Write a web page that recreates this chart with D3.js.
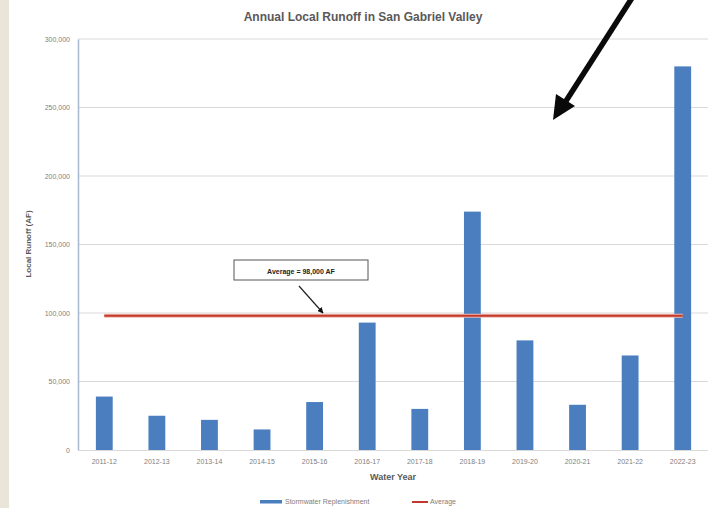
<!DOCTYPE html>
<html><head><meta charset="utf-8">
<script src="https://cdn.jsdelivr.net/npm/d3@7/dist/d3.min.js"></script>
<style>body{margin:0;background:#fff;}svg{display:block;font-family:"Liberation Sans",Arial,sans-serif;}</style>
</head><body><svg id="c" width="708" height="508"></svg>
<script>
const categories = ["2011-12","2012-13","2013-14","2014-15","2015-16","2016-17","2017-18","2018-19","2019-20","2020-21","2021-22","2022-23"];
const runoff = [39000,25000,22000,15000,35000,93000,30000,174000,80000,33000,69000,280000];
const averageValue = [98000];
const yTicks = [0,50000,100000,150000,200000,250000,300000];
const seriesNames = ["Stormwater Replenishment","Average"];

const svg = d3.select("#c");
// left beige strip
svg.append("rect").attr("x",0).attr("y",0).attr("width",9).attr("height",508).attr("fill","#e9e5d9");

const x = d3.scaleBand().domain(categories).range([78,709]).paddingInner(0.68).paddingOuter(0.34);
const y = d3.scaleLinear().domain([0,300000]).range([450,39]);

// gridlines
svg.append("g").selectAll("line").data(yTicks.filter(d=>d>0)).join("line")
  .attr("x1",78).attr("x2",708).attr("y1",d=>y(d)).attr("y2",d=>y(d))
  .attr("stroke","#d9d9d9").attr("stroke-width",1);

// y axis
const yAxis = d3.axisLeft(y).tickValues(yTicks).tickFormat(d3.format(",")).tickSize(0).tickPadding(8);
const ga = svg.append("g").attr("transform","translate(78,0)").call(yAxis);
ga.select(".domain").attr("stroke","#a9b9cf").attr("stroke-width",1.5);
ga.selectAll("text").attr("font-size",7).attr("fill","#808080");

// bars
svg.append("g").selectAll("rect").data(runoff).join("rect")
  .attr("x",(d,i)=>x(categories[i])).attr("width",x.bandwidth())
  .attr("y",d=>y(d)).attr("height",d=>y(0)-y(d)).attr("fill","#4a7ebf");

// x axis baseline
svg.append("line").attr("x1",78).attr("x2",708).attr("y1",450.5).attr("y2",450.5).attr("stroke","#d9d9d9");

// x labels
const xAxis = d3.axisBottom(x).tickSize(0).tickPadding(9);
const gx = svg.append("g").attr("transform","translate(0,450)").call(xAxis);
gx.select(".domain").remove();
gx.selectAll("text").attr("font-size",7).attr("fill","#808080");

// average line
const ax0 = x(categories[0]) + x.bandwidth()/2, ax1 = x(categories[categories.length-1]) + x.bandwidth()/2;
svg.append("line").attr("x1",ax0).attr("x2",ax1).attr("y1",y(averageValue[0])).attr("y2",y(averageValue[0]))
  .attr("stroke","#f2b8b0").attr("stroke-width",4);
svg.append("line").attr("x1",ax0).attr("x2",ax1).attr("y1",y(averageValue[0])).attr("y2",y(averageValue[0]))
  .attr("stroke","#c0392b").attr("stroke-width",2);

// title
svg.append("text").attr("x",363).attr("y",21).attr("text-anchor","middle").attr("font-size",12).attr("font-weight","bold").attr("fill","#595959")
  .text("Annual Local Runoff in San Gabriel Valley");

// axis titles
svg.append("text").attr("transform","translate(31,244) rotate(-90)").attr("text-anchor","middle").attr("font-size",8).attr("font-weight","bold").attr("fill","#595959").text("Local Runoff (AF)");
svg.append("text").attr("x",393).attr("y",480).attr("text-anchor","middle").attr("font-size",9).attr("font-weight","bold").attr("fill","#595959").text("Water Year");

// legend
svg.append("rect").attr("x",260).attr("y",500).attr("width",22).attr("height",3.5).attr("fill","#4a7ebf");
svg.append("text").attr("x",285).attr("y",504).attr("font-size",7).attr("fill","#808080").text(seriesNames[0]);
svg.append("line").attr("x1",412).attr("x2",428).attr("y1",502).attr("y2",502).attr("stroke","#c0392b").attr("stroke-width",2);
svg.append("text").attr("x",430).attr("y",504).attr("font-size",7).attr("fill","#808080").text(seriesNames[1]);

// defs
const defs = svg.append("defs");
defs.append("marker").attr("id","sm").attr("viewBox","0 0 10 10").attr("refX",9).attr("refY",5)
  .attr("markerWidth",5).attr("markerHeight",5).attr("orient","auto")
  .append("path").attr("d","M0,0 L10,5 L0,10 z").attr("fill","#111");

// annotation box
svg.append("rect").attr("x",234).attr("y",260).attr("width",134).attr("height",20).attr("fill","#fff").attr("stroke","#555").attr("stroke-width",1);
svg.append("text").attr("x",301).attr("y",273.5).attr("text-anchor","middle").attr("font-size",7).attr("font-weight","bold").attr("fill","#222").text("Average = " + d3.format(",")(averageValue[0]) + " AF");
svg.append("line").attr("x1",299).attr("y1",286).attr("x2",323).attr("y2",313).attr("stroke","#222").attr("stroke-width",1.2).attr("marker-end","url(#sm)");

// big black arrow
svg.append("line").attr("x1",632).attr("y1",-2).attr("x2",566).attr("y2",101).attr("stroke","#0a0a0a").attr("stroke-width",5.5);
svg.append("path").attr("d","M553,120 L556,94 L575,106 Z").attr("fill","#0a0a0a");
</script></body></html>
